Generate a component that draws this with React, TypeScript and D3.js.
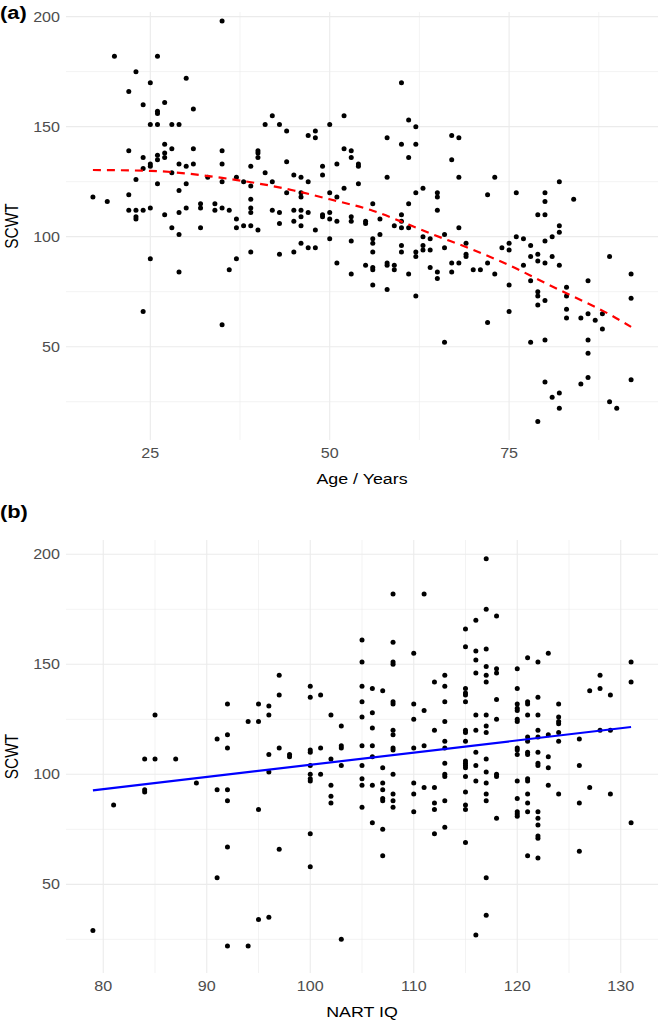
import React from "react";
import * as d3 from "d3";

// panel (a): age vs SCWT
const ageA = [35,20,26,23,25,30,22,24,27,26,26,31,25,26,28,29,22,27,28,31,35,24,26,27,27,26,25,25,29,30,31,35,24,28,23,26,30,33,35,37,29,17,19,22,22,23,24,25,23,23,27,29,30,32,32,34,34,35,36,37,28,32,
  29,37,25,29,36,37,24,35,
  60,42,41,43,50,52,61,62,44,47,48,48,58,60,62,52,40,40,40,53,53,54,54,61,44,39,49,51,41,38,45,46,49,58,39,42,47,52,54,44,46,46,50,51,56,61,62,63,65,65,39,39,39,42,43,45,46,46,47,49,49,50,50,51,53,53,55,55,57,60,60,65,38,39,43,45,40,46,48,59,60,61,
  39,43,45,46,47,48,50,51,53,53,55,56,56,56,56,56,56,57,58,58,58,59,59,60,60,61,62,62,62,63,63,63,64,64,64,65,65,
  67,68,67,68,73,72,76,80,82,80,84,79,80,82,68,
  66,66,66,67,67,69,69,69,68,70,71,72,73,72,74,75,75,75,75,76,77,77,78,78,78,78,79,79,79,79,79,79,80,80,80,80,80,81,81,81,82,82,82,82,83,83,83,83,85,85,86,86,86,86,86,87,88,88,89,89,90,92,92,92];
const scwtA = [198,182,182,175,170,172,166,160,161,157,156,158,151,151,151,151,139,142,140,140,139,136,137,138,136,135,133,132,133,132,133,133,131,129,126,124,124,127,125,127,121,118,116,119,112,112,112,113,109,108,110,111,113,115,113,115,112,113,112,108,104,104,
  101,104,90,84,85,90,66,60,
  170,155,151,151,151,155,153,150,148,146,148,145,145,142,142,140,139,138,136,139,136,133,132,136,134,132,132,133,129,125,128,127,128,127,123,125,125,122,124,120,120,118,120,118,115,115,120,122,120,118,117,113,111,112,111,112,112,109,111,110,109,111,108,107,109,107,107,106,108,110,107,112,105,105,106,107,103,105,103,105,104,104,
  93,92,93,97,95,95,99,88,98,83,87,99,97,93,86,85,78,101,88,87,76,87,85,96,93,83,93,91,73,100,96,94,99,94,86,84,81,
  146,145,135,127,127,119,120,120,125,116,117,110,110,105,104,
  101,95,52,88,84,97,92,91,88,85,85,88,83,61,95,97,94,78,66,100,99,87,96,91,80,52,92,89,75,73,69,16,98,88,71,53,34,100,91,27,102,87,29,22,77,73,67,63,63,33,80,65,53,47,36,62,65,58,91,25,22,83,72,35];

// fitted smooth for panel (a)
const fitAge = [17, 25, 35, 45, 50, 56, 61, 64, 70, 76, 80, 84, 89, 92];
const fitScwtA = [130.3, 129.9, 126.7, 121, 117, 111.8, 105.5, 101.5, 94, 85.5, 79, 72.7, 64.7, 59];

// panel (b): NART IQ vs SCWT
const nartB = [85,92,91,92,92,
  108,111,105,108,110,105,108,108,97,112,100,105,106,107,97,100,101,95,96,96,105,108,108,110,111,102,106,105,110,94,95,103,106,108,108,112,97,100,101,103,103,105,106,108,110,111,
  96,98,98,100,102,108,106,100,103,105,96,100,101,100,100,107,108,105,105,102,106,107,107,110,92,92,111,112,110,108,102,102,107,107,108,108,105,95,110,112,112,106,107,100,112,97,107,100,95,96,94,103,
  84,85,87,89,84,84,91,81,92,91,79,92,
  117,117,116,118,115,115,116,117,116,117,121,122,123,131,116,117,118,118,120,113,113,117,128,131,115,115,115,115,120,113,118,127,128,129,120,120,120,121,121,122,124,116,117,121,122,120,120,124,124,124,113,118,117,115,115,116,115,117,122,123,124,124,121,121,122,126,128,129,113,113,120,
  113,113,113,116,117,115,115,115,115,116,117,118,118,115,116,117,120,120,121,121,122,122,122,123,123,126,120,121,121,123,113,113,115,115,115,115,117,117,118,120,120,120,120,121,121,121,122,122,122,122,122,124,126,127,129,131,121,122,126,117,117,116];
const scwtB = [127,132,116,118,112,
  182,182,161,160,155,151,151,150,145,142,140,140,139,138,136,135,136,132,131,127,133,133,132,132,129,127,128,126,125,124,124,122,121,120,118,120,112,111,112,113,112,113,113,112,112,113,
  109,109,108,110,107,111,108,104,104,104,101,100,100,98,97,103,100,98,95,95,95,96,93,96,93,88,94,94,91,91,90,87,89,88,88,85,85,84,83,87,84,78,75,73,73,66,63,58,34,35,22,25,
  107,107,107,96,93,92,93,86,67,53,29,22,
  198,175,170,172,166,158,156,157,152,149,153,151,155,151,146,145,148,146,148,145,140,142,145,142,139,137,136,133,139,133,134,138,139,136,132,130,129,133,132,135,132,127,127,127,127,125,124,126,124,123,124,125,122,120,119,120,115,119,120,118,119,115,117,115,117,116,120,120,115,112,112,
  105,100,99,110,107,106,105,104,103,104,101,100,99,99,97,96,111,109,110,109,110,105,104,108,103,104,97,98,97,95,88,76,92,86,84,69,91,88,80,89,83,82,81,91,87,83,83,80,77,72,71,91,87,94,91,78,63,62,65,53,36,27];

// straight-line fit for panel (b)
const fitIQ = [79, 131];
const fitScwtB = [92.7, 121.5];

const ageTicks = [25, 50, 75];
const ageMinor = [37.5, 62.5, 87.5];
const iqTicks = [80, 90, 100, 110, 120, 130];
const iqMinor = [85, 95, 105, 115, 125];
const scwtTicks = [50, 100, 150, 200];
const scwtMinor = [25, 75, 125, 175];

const FONT = "'Liberation Sans', Arial, Helvetica, sans-serif";
const SX = 1.15; // source image is a bit wider than tall

const Txt = ({ x, y, size, anchor = "middle", fill = "#000", weight = "normal", rot = false, children }: any) => (
  <text
    transform={`translate(${x},${y})` + (rot ? ` rotate(-90) scale(1,${SX})` : ` scale(${SX},1)`)}
    fontSize={size}
    fontFamily={FONT}
    textAnchor={anchor}
    fill={fill}
    fontWeight={weight}
  >
    {children}
  </text>
);

const Panel = ({ tag, tagY, x, y, xs, ys, xTicks, xMinor, xTitle, line, lineColor, dashed }: any) => {
  const [x0, x1] = x.range();
  const [yb, yt] = y.range();
  const path = d3.line<number[]>().x(d => x(d[0])).y(d => y(d[1])).curve(d3.curveMonotoneX)(line);
  return (
    <g>
      <Txt x={0} y={tagY} size={19} anchor="start" weight="bold">{tag}</Txt>
      {scwtMinor.map(v => <line key={"ym" + v} x1={x0} x2={x1} y1={y(v)} y2={y(v)} stroke="#ebebeb" strokeWidth={0.6} />)}
      {xMinor.map(v => <line key={"xm" + v} x1={x(v)} x2={x(v)} y1={yb} y2={yt} stroke="#ebebeb" strokeWidth={0.6} />)}
      {scwtTicks.map(v => <line key={"y" + v} x1={x0} x2={x1} y1={y(v)} y2={y(v)} stroke="#ebebeb" strokeWidth={1.1} />)}
      {xTicks.map(v => <line key={"x" + v} x1={x(v)} x2={x(v)} y1={yb} y2={yt} stroke="#ebebeb" strokeWidth={1.1} />)}
      {scwtTicks.map(v => <Txt key={"yl" + v} x={60} y={y(v) + 5} size={14} anchor="end" fill="#4d4d4d">{v}</Txt>)}
      {xTicks.map(v => <Txt key={"xl" + v} x={x(v)} y={yb + 18} size={14} fill="#4d4d4d">{v}</Txt>)}
      <Txt x={(x0 + x1) / 2} y={yb + 44} size={15.5}>{xTitle}</Txt>
      <Txt x={18} y={(yb + yt) / 2} size={15.5} rot>SCWT</Txt>
      {xs.map((v: number, i: number) => <circle key={i} cx={x(v)} cy={y(ys[i])} r={2.5} fill="#000" />)}
      <path d={path || ""} fill="none" stroke={lineColor} strokeWidth={2.2} strokeDasharray={dashed ? "8,6" : undefined} />
    </g>
  );
};

export default function App() {
  const xA = d3.scaleLinear().domain([13.25, 95.75]).range([66, 658]);
  const yA = d3.scaleLinear().domain([7.6, 202.1]).range([440, 12]);
  const xB = d3.scaleLinear().domain([76.4, 133.6]).range([66, 658]);
  const yB = d3.scaleLinear().domain([9.7, 206.5]).range([973, 540]);
  const lineA = fitAge.map((a, i) => [a, fitScwtA[i]]);
  const lineB = fitIQ.map((a, i) => [a, fitScwtB[i]]);
  return (
    <svg width={661} height={1027} style={{ position: "absolute", left: 0, top: 0, background: "#fff" }}>
      <rect width={661} height={1027} fill="#fff" />
      <Panel tag="(a)" tagY={19} x={xA} y={yA} xs={ageA} ys={scwtA} xTicks={ageTicks} xMinor={ageMinor}
        xTitle="Age / Years" line={lineA} lineColor="#ff0000" dashed />
      <Panel tag="(b)" tagY={518} x={xB} y={yB} xs={nartB} ys={scwtB} xTicks={iqTicks} xMinor={iqMinor}
        xTitle="NART IQ" line={lineB} lineColor="#0000ff" />
    </svg>
  );
}
